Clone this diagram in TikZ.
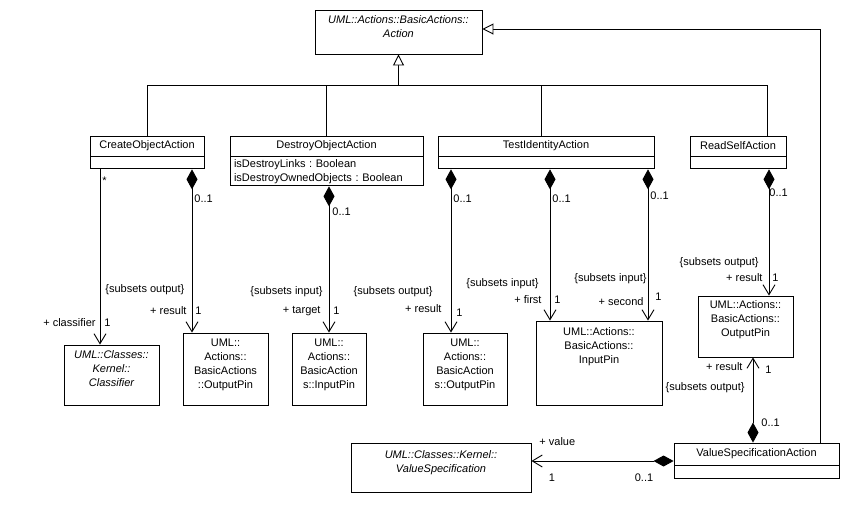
\documentclass[tikz,border=0pt]{standalone}
\usepackage{fontspec}
\setmainfont{Liberation Sans}
\usepackage{tikz}
\usetikzlibrary{arrows.meta,positioning}
\frenchspacing

\tikzset{
  umlfont/.style={font=\fontsize{11}{14}\selectfont},
  cname/.style={draw,umlfont,inner sep=0pt,minimum height=20pt},
  cempty/.style={draw,inner sep=0pt,minimum height=12pt,anchor=north},
  pinbox/.style={draw,inner sep=0pt},
  pintxt/.style={umlfont,align=center,inner sep=0pt},
  itxt/.style={pintxt,font=\fontsize{11}{14}\selectfont\itshape},
  lbl/.style={umlfont,inner sep=1pt},
  gen/.style={-{Triangle[open,length=11pt,width=11pt,fill=white]}},
  assoc/.style={-{Straight Barb[length=10pt,width=12pt]}},
  comp/.style={{Diamond[length=20pt,width=11pt]}-{Straight Barb[length=10pt,width=12pt]}},
}

\begin{document}
\begin{tikzpicture}[x=1pt,y=-1pt,line width=0.9pt]
\useasboundingbox (0,0) rectangle (866,507);

% abstract action
\node[pinbox,minimum width=167pt,minimum height=44pt] (act) at (398.5,32) {};
\node[itxt,below=6pt of act.north] (actt) {UML::Actions::BasicActions::\\Action};

% the action classes
\node[cname,minimum width=114pt] (coa) at (147,146) {CreateObjectAction};
\node[cempty,minimum width=114pt] (coab) at (coa.south) {};
\node[cname,minimum width=193pt] (doa) at (326.5,146) {DestroyObjectAction};
\node[draw,umlfont,anchor=north,align=left,text width=185pt,inner xsep=4pt,inner ysep=0pt,
    minimum height=29pt] (doab) at (doa.south) {isDestroyLinks : Boolean\\isDestroyOwnedObjects : Boolean};
\node[cname,minimum width=216pt] (tia) at (546,146) {TestIdentityAction};
\node[cempty,minimum width=216pt] (tiab) at (tia.south) {};
\node[cname,minimum width=96pt] (rsa) at (738,146) {ReadSelfAction};
\node[cempty,minimum width=96pt] (rsab) at (rsa.south) {};
\node[cname,minimum width=165pt,minimum height=22pt] (vsa) at (756.5,454) {ValueSpecificationAction};
\node[cempty,minimum width=165pt,minimum height=13pt] (vsab) at (vsa.south) {};

% pins and kernel classes
\node[pinbox,minimum width=95pt,minimum height=60pt] (cls) at (111.5,375) {};
\node[itxt,below=6pt of cls.north] (clst) {UML::Classes::\\Kernel::\\Classifier};
\node[pinbox,minimum width=85pt,minimum height=72pt] (opin1) at (225.5,369) {};
\node[pintxt,below=6pt of opin1.north] (opin1t) {UML::\\Actions::\\BasicActions\\::OutputPin};
\node[pinbox,minimum width=74pt,minimum height=72pt] (ipin1) at (329,369) {};
\node[pintxt,below=6pt of ipin1.north] (ipin1t) {UML::\\Actions::\\BasicAction\\s::InputPin};
\node[pinbox,minimum width=84pt,minimum height=72pt] (opin2) at (465,369) {};
\node[pintxt,below=6pt of opin2.north] (opin2t) {UML::\\Actions::\\BasicAction\\s::OutputPin};
\node[pinbox,minimum width=126pt,minimum height=84pt] (ipin2) at (599,363) {};
\node[pintxt,below=7pt of ipin2.north] (ipin2t) {UML::Actions::\\BasicActions::\\InputPin};
\node[pinbox,minimum width=95pt,minimum height=61pt] (opin3) at (745.5,326.5) {};
\node[pintxt,below=5pt of opin3.north] (opin3t) {UML::Actions::\\BasicActions::\\OutputPin};
\node[pinbox,minimum width=180pt,minimum height=49pt] (vspec) at (441,467.5) {};
\node[itxt,below=8pt of vspec.north] (vspect) {UML::Classes::Kernel::\\ValueSpecification};

% generalizations
\coordinate (gjoin) at (act.south |- 0,85);
\draw[gen] (gjoin) -- (act.south);
\draw (coa.north) |- (gjoin);
\draw (doa.north) |- (gjoin);
\draw (tia.north -| 541,0) |- (gjoin);
\draw (rsa.north -| 767,0) |- (gjoin);
\draw[gen] (vsa.north -| 820,0) |- (act.east |- 0,29);

% associations
\draw[assoc] (coab.south -| 100,0) -- (cls.north -| 100,0);
\node[lbl,anchor=west] (clsmult) at (101,181) {*};
\node[lbl,anchor=west] (clssub) at (104,290) {\{subsets output\}};
\node[lbl,anchor=east] (clsrole) at (97,323) {+ classifier};
\node[lbl,anchor=west] (clsone) at (103,323) {1};

\draw[comp] (coab.south -| 192,0) -- (opin1.north -| 192,0);
\node[lbl,anchor=west] (opin1mult) at (193,199) {0..1};
\node[lbl,anchor=east] (opin1role) at (188,311) {+ result};
\node[lbl,anchor=west] (opin1one) at (194,311) {1};

\draw[comp] (doab.south -| 329,0) -- (ipin1.north -| 329,0);
\node[lbl,anchor=west] (ipin1mult) at (331,212) {0..1};
\node[lbl,anchor=east] (ipin1sub) at (324,292) {\{subsets input\}};
\node[lbl,anchor=east] (ipin1role) at (322,311) {+ target};
\node[lbl,anchor=west] (ipin1one) at (332,311) {1};

\draw[comp] (tiab.south -| 451,0) -- (opin2.north -| 451,0);
\node[lbl,anchor=west] (opin2mult) at (452,199) {0..1};
\node[lbl,anchor=east] (opin2sub) at (434,292) {\{subsets output\}};
\node[lbl,anchor=east] (opin2role) at (443,309) {+ result};
\node[lbl,anchor=west] (opin2one) at (455,313) {1};

\draw[comp] (tiab.south -| 550,0) -- (ipin2.north -| 550,0);
\node[lbl,anchor=west] (firstmult) at (551,199) {0..1};
\node[lbl,anchor=east] (firstsub) at (540,284) {\{subsets input\}};
\node[lbl,anchor=east] (firstrole) at (543,300) {+ first};
\node[lbl,anchor=west] (firstone) at (553,300) {1};

\draw[comp] (tiab.south -| 648,0) -- (ipin2.north -| 648,0);
\node[lbl,anchor=west] (secondmult) at (649,196) {0..1};
\node[lbl,anchor=east] (secondsub) at (648,279) {\{subsets input\}};
\node[lbl,anchor=east] (secondrole) at (645,302) {+ second};
\node[lbl,anchor=west] (secondone) at (654,297) {1};

\draw[comp] (rsab.south -| 769,0) -- (opin3.north -| 769,0);
\node[lbl,anchor=west] (opin3mult) at (768,193) {0..1};
\node[lbl,anchor=east] (opin3sub) at (760,263) {\{subsets output\}};
\node[lbl,anchor=east] (opin3role) at (764,278) {+ result};
\node[lbl,anchor=west] (opin3one) at (771,278) {1};

\draw[comp] (vsa.north -| 753,0) -- (opin3.south -| 753,0);
\node[lbl,anchor=east] (vresrole) at (744,367) {+ result};
\node[lbl,anchor=west] (vresone) at (764,370) {1};
\node[lbl,anchor=east] (vressub) at (746,388) {\{subsets output\}};
\node[lbl,anchor=west] (vresmult) at (760,423) {0..1};

\draw[comp] (vsa.west |- 0,461) -- (vspec.east |- 0,461);
\node[lbl,anchor=west] (valrole) at (538,442) {+ value};
\node[lbl] (valone) at (552,478) {1};
\node[lbl] (valmult) at (644,478) {0..1};
\end{tikzpicture}
\end{document}
